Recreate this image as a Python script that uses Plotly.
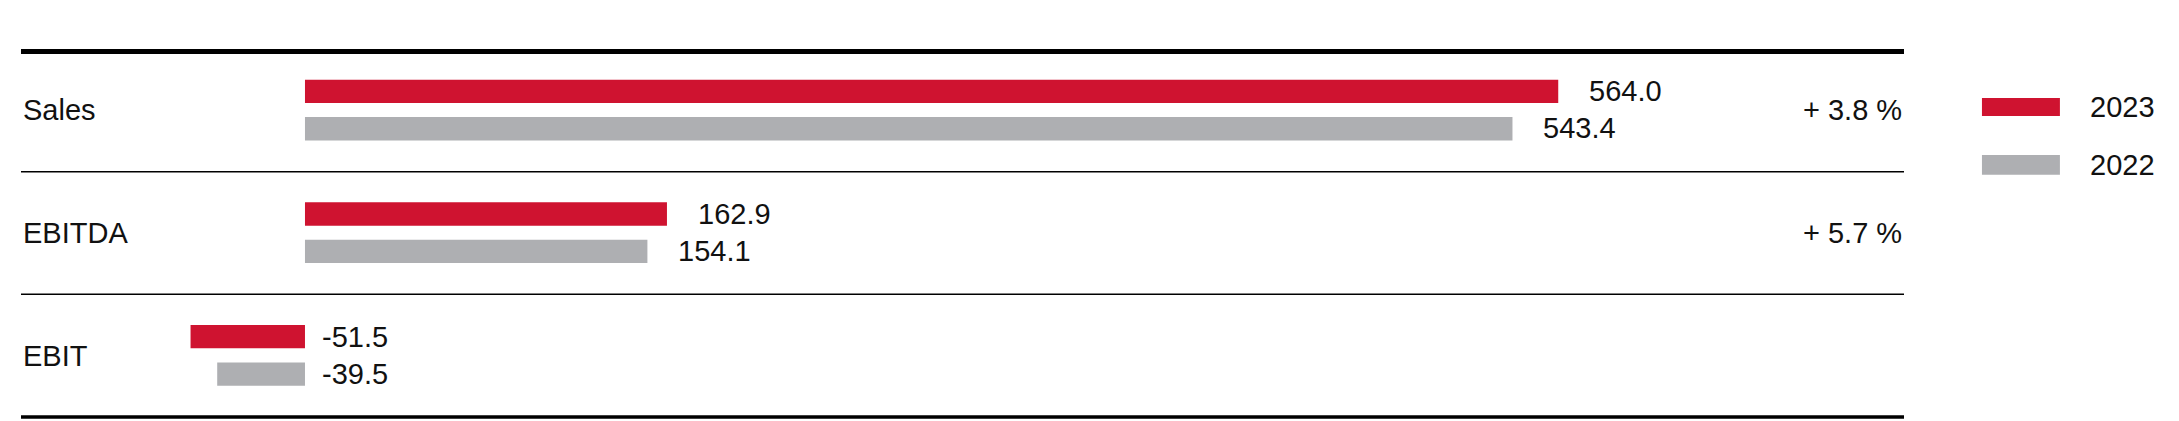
import plotly.graph_objects as go

categories = ["Sales", "EBITDA", "EBIT"]
values_2023 = [564.0, 162.9, -51.5]
values_2022 = [543.4, 154.1, -39.5]
change_labels = ["+ 3.8 %", "+ 5.7 %", ""]
years = ["2023", "2022"]

RED = "#CF1330"
GREY = "#AEAFB2"
FONT = "Liberation Sans"


def fmt(v):
	return "%.1f" % v


def draw_chart():
	fig = go.Figure()

	# bars, red on top, grey below inside each row
	fig.add_trace(go.Bar(
		y=categories, x=values_2023, orientation="h",
		marker=dict(color=RED, line=dict(width=0)),
		width=0.19, offset=-0.25, name=years[0],
		hoverinfo="x+y"
	))
	fig.add_trace(go.Bar(
		y=categories, x=values_2022, orientation="h",
		marker=dict(color=GREY, line=dict(width=0)),
		width=0.19, offset=0.055, name=years[1],
		hoverinfo="x+y"
	))

	annotations = []
	for i, cat in enumerate(categories):
		# row label on the left
		annotations.append(dict(
			x=0, xref="paper", y=cat, yref="y", text=cat,
			xanchor="left", yanchor="middle", showarrow=False
		))
		# change in percent on the right
		if change_labels[i]:
			annotations.append(dict(
				x=1, xref="paper", y=cat, yref="y", text=change_labels[i],
				xanchor="right", yanchor="middle", showarrow=False
			))
		# value labels
		for v, shift in ((values_2023[i], 19), (values_2022[i], -18)):
			annotations.append(dict(
				x=max(v, 0), xref="x", y=cat, yref="y", text=fmt(v),
				xanchor="left", yanchor="middle", showarrow=False,
				xshift=29 if v >= 0 else 15, yshift=shift
			))

	# hand made legend with wide swatches
	shapes = []
	for col, y0, y1, label in ((RED, 0.818, 0.867, years[0]), (GREY, 0.658, 0.712, years[1])):
		shapes.append(dict(
			type="rect", xref="paper", yref="paper",
			x0=1.0414, x1=1.0828, y0=y0, y1=y1,
			fillcolor=col, line=dict(width=0)
		))
		annotations.append(dict(
			x=1.0977, xref="paper", y=(y0 + y1) / 2, yref="paper", text=label,
			xanchor="left", yanchor="middle", showarrow=False
		))

	# rules between rows
	shapes.append(dict(type="line", xref="paper", yref="paper", x0=0, x1=1, y0=0.993, y1=0.993,
		line=dict(color="#000000", width=5)))
	for yv in (0.5, 1.5):
		shapes.append(dict(type="line", xref="paper", yref="y", x0=0, x1=1, y0=yv, y1=yv,
			line=dict(color="#000000", width=1.5)))
	shapes.append(dict(type="line", xref="paper", yref="paper", x0=0, x1=1, y0=0.0, y1=0.0,
		line=dict(color="#000000", width=3.5)))

	fig.update_layout(
		width=2179, height=421,
		margin=dict(l=21, r=275, t=49, b=4),
		paper_bgcolor="white", plot_bgcolor="white",
		barmode="overlay", showlegend=False,
		font=dict(family=FONT, size=29, color="#111111"),
		xaxis=dict(range=[-127.8, 719.6], visible=False, fixedrange=True),
		yaxis=dict(range=[2.5, -0.5], showticklabels=False, showgrid=False,
			zeroline=False, ticks="", fixedrange=True),
		shapes=shapes,
		annotations=annotations
	)

	# no page margin so the figure fills the window exactly
	fig.write_html("out.html", config=dict(displayModeBar=False),
		post_script="document.body.style.margin='0';document.body.style.overflow='hidden';")


if __name__ == "__main__":
	draw_chart()
